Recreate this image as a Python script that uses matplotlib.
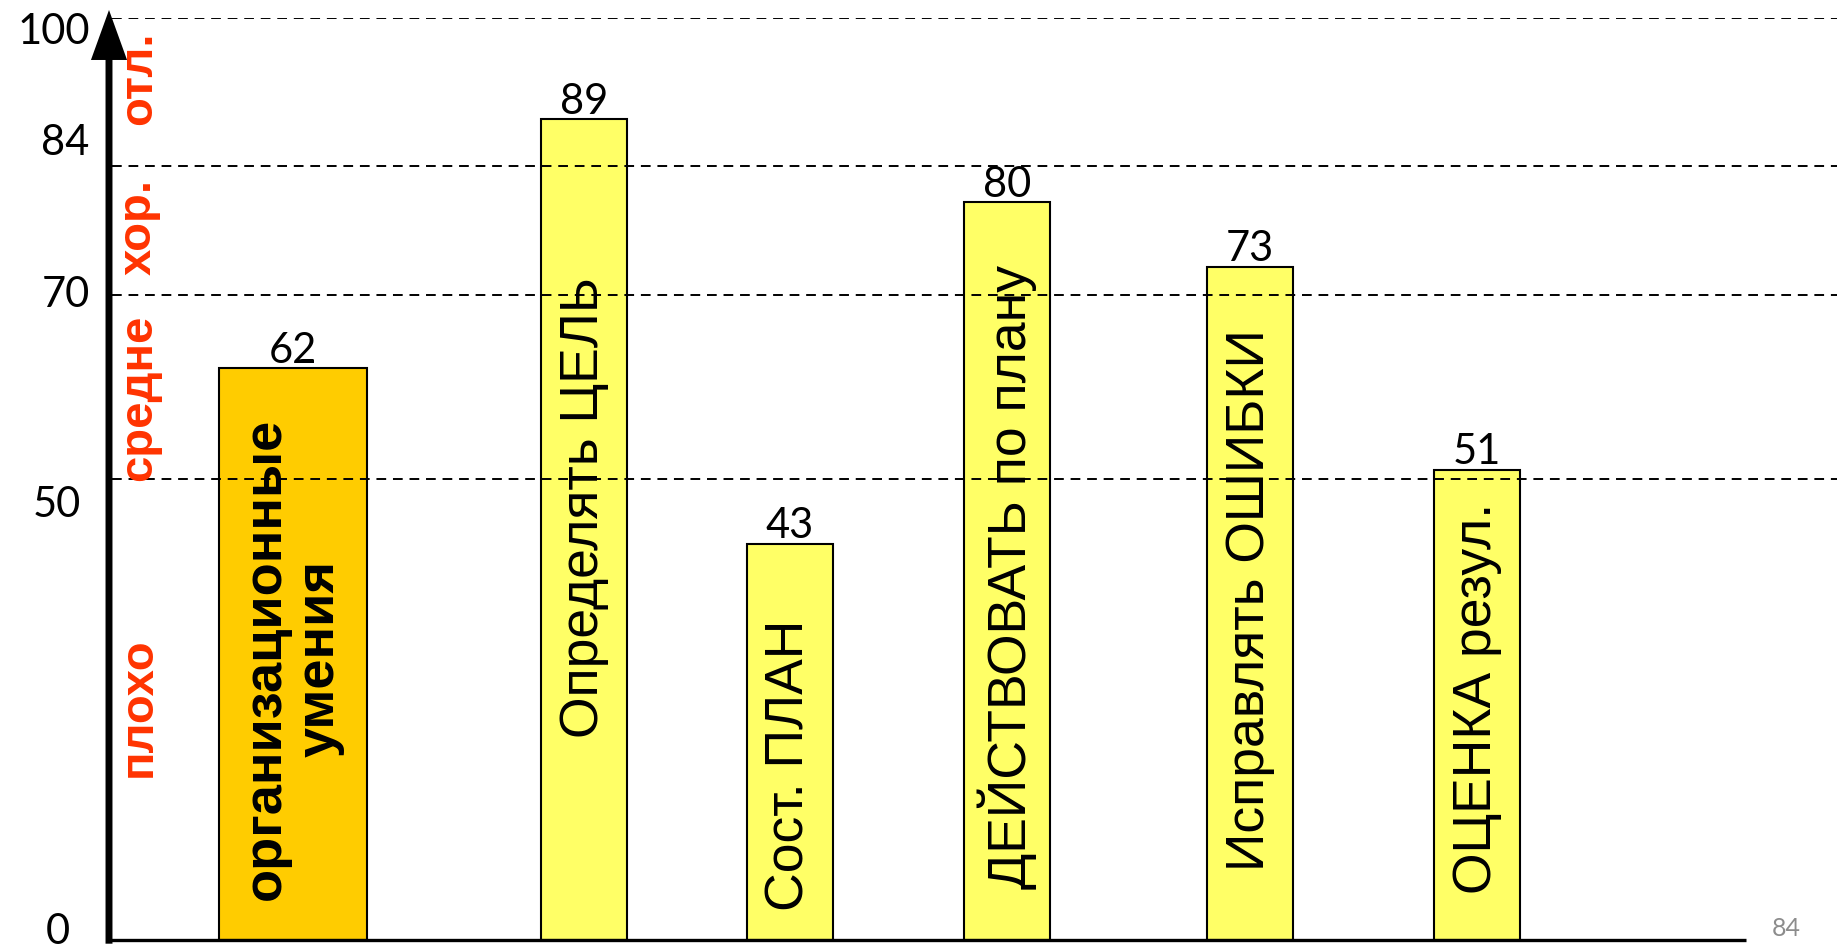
import matplotlib
matplotlib.use("Agg")
import matplotlib.pyplot as plt
import matplotlib.transforms as mtransforms

# ---- data ----
categories = ["организационные\nумения", "Определять ЦЕЛЬ", "Сост. ПЛАН",
              "ДЕЙСТВОВАТЬ по плану", "Исправлять ОШИБКИ", "ОЦЕНКА резул."]
values = [62, 89, 43, 80, 73, 51]
tick_values = [0, 50, 70, 84, 100]
tick_labels = ["0", "50", "70", "84", "100"]
band_labels = ["плохо", "средне", "хор.", "отл."]
page_number = "84"

# ---- layout ----
bar_pos = [1.84, 4.75, 6.81, 8.98, 11.41, 13.68]
bar_width = [1.49, 0.86, 0.86, 0.86, 0.86, 0.86]
bar_colors = ["#FFCC00", "#FFFF66", "#FFFF66", "#FFFF66", "#FFFF66", "#FFFF66"]
label_y = [30.5, 46.9, 18.9, 39.4, 36.9, 26.2]
label_bold = [True, False, False, False, False, False]
band_y = [25.2, 58.8, 77.3, 93.5]
tick_dy_pt = [-6, 19, 0, -16, 10]    # manual nudges of tick texts (points, + = down)
tick_dx_pt = [-28, -20, -14, -14, -14]

W, H = 1837, 951
fig = plt.figure(figsize=(W / 100, H / 100), dpi=100)
ax = fig.add_axes([109 / W, 11 / H, 1728 / W, 922 / H])
ax.set_xlim(0, 17.28)
ax.set_ylim(0, 100)
for s in ax.spines.values():
    s.set_visible(False)
ax.set_xticks([])
ax.set_yticks([])

# bars
ax.bar(bar_pos, values, width=bar_width, color=bar_colors,
       edgecolor="black", linewidth=1.5, zorder=2)

# dashed reference lines
for t in tick_values[1:]:
    ax.axhline(t, xmin=0.002, xmax=1, color="black", lw=1.4,
               linestyle=(0, (5, 3.5)), zorder=3)

# y tick texts
blend = mtransforms.blended_transform_factory(ax.transAxes, ax.transData)
for t, lab, dx, dy in zip(tick_values, tick_labels, tick_dx_pt, tick_dy_pt):
    ax.annotate(lab, (0, t), xycoords=blend, xytext=(dx, -dy),
                textcoords="offset points", ha="right", va="center",
                fontfamily="Lato", fontsize=30, annotation_clip=False)

# bottom axis line
ax.plot([0, 16.37], [0, 0], color="black", lw=2.4, clip_on=False, zorder=4,
        solid_capstyle="butt")

# left arrow axis
ax.annotate("", xy=(0, 1.0087), xytext=(0, -0.004),
            xycoords="axes fraction", textcoords="axes fraction",
            arrowprops=dict(width=5, headwidth=26, headlength=36,
                            facecolor="black", edgecolor="none", shrink=0),
            annotation_clip=False, zorder=5)

# value labels
for x, v in zip(bar_pos, values):
    ax.annotate(str(v), (x, v), xytext=(0, 4), textcoords="offset points",
                ha="center", va="baseline", fontfamily="Lato", fontsize=30)

# bar labels (rotated)
for x, y, lab, b in zip(bar_pos, label_y, categories, label_bold):
    ax.text(x, y, lab, rotation=90, ha="center", va="center",
            fontfamily="Liberation Sans", fontsize=39 if b else 38.5,
            fontweight="bold" if b else "normal", zorder=4,
            linespacing=1.1)

# band labels (red, rotated)
for y, lab in zip(band_y, band_labels):
    ax.text(0.3, y, lab, rotation=90, ha="center", va="center",
            fontfamily="Liberation Sans", fontsize=34, fontweight="bold",
            color="#FF3300", zorder=4)

# page number
fig.text(1786 / W, (H - 928) / H, page_number, color="#8C8C8C",
         fontfamily="Lato", fontsize=18, ha="center", va="center")

fig.savefig("out.png", dpi=100, facecolor="white")
